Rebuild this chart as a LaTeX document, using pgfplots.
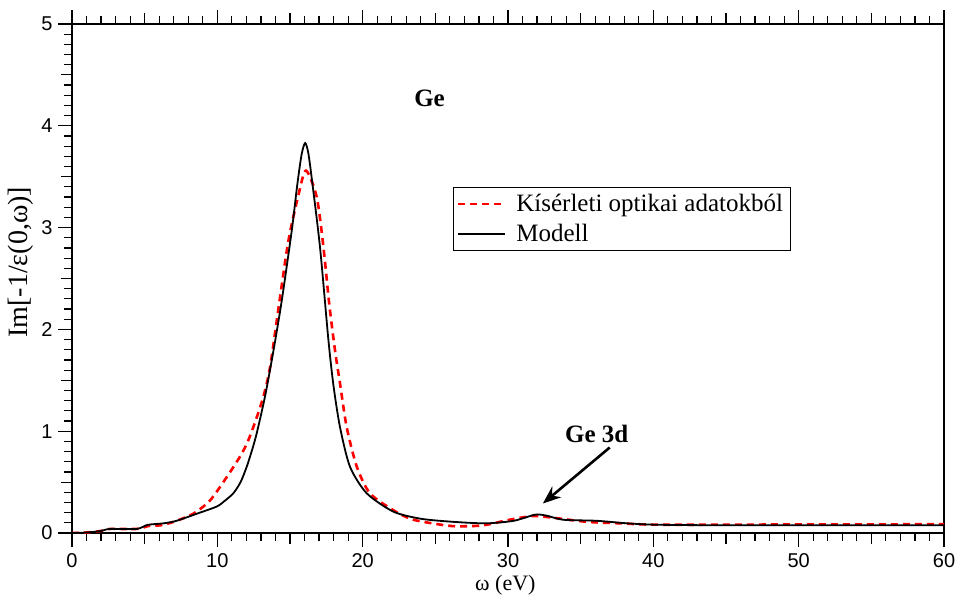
\documentclass[border=0pt]{standalone}
\usepackage{fontspec}
\setmainfont{Liberation Serif}
\newfontfamily\sansf{Liberation Sans}
\usepackage{pgfplots}
\pgfplotsset{compat=1.18}
\usetikzlibrary{arrows.meta,calc}

% Im[-1/eps] of Ge: optical data vs. model
\pgfplotstableread{
x y
0 0.0
1 0.005
2 0.02
2.6 0.04
4.45 0.04
5.2 0.08
6.3 0.095
7.2 0.12
8.6 0.19
9.96 0.26
10.5 0.315
11.1 0.39
11.6 0.50
12.02 0.65
12.4 0.82
12.71 0.98
13.28 1.34
13.86 1.79
14.43 2.28
15.12 2.97
15.5 3.42
15.8 3.72
16.04 3.83
16.25 3.74
16.5 3.48
17.07 2.80
17.64 1.90
17.99 1.45
18.44 1.04
19.13 0.65
20.28 0.39
22.11 0.21
24.0 0.14
26.2 0.11
28.5 0.095
30.4 0.12
31.87 0.18
32.67 0.17
33.8 0.13
36.1 0.12
38.2 0.095
40.0 0.082
43.2 0.077
50 0.076
60 0.077
}\model

\pgfplotstableread{
x y
0 0.0
1 0.005
2 0.02
2.6 0.04
4.45 0.04
5.3 0.07
6.06 0.075
7.0 0.11
8.35 0.19
9.5 0.32
10.65 0.55
11.6 0.76
12.1 0.90
12.6 1.09
13.17 1.34
13.63 1.63
14.25 2.25
14.89 2.87
15.58 3.32
16.1 3.56
16.84 3.30
17.3 2.81
17.7 2.25
18.1 1.79
18.44 1.47
18.9 1.04
19.6 0.65
20.5 0.39
22.1 0.225
23.5 0.13
26.0 0.07
27.5 0.068
28.5 0.08
30.1 0.13
31.75 0.167
33.1 0.15
35.4 0.11
37.7 0.095
40.0 0.082
45 0.082
50 0.084
60 0.086
}\optical

\begin{document}
\begin{tikzpicture}
\begin{axis}[
  name=ax,
  scale only axis,
  width=872pt, height=509pt,
  xmin=0, xmax=60, ymin=0, ymax=5,
  xtick={0,10,...,60}, ytick={0,1,...,5},
  minor x tick num=9, minor y tick num=9,
  extra x ticks={5,15,25,35,45,55}, extra x tick labels={},
  extra y ticks={0.5,1.5,2.5,3.5,4.5}, extra y tick labels={},
  extra tick style={major tick length=11pt},
  tick align=outside,
  xtick pos=both, ytick pos=left,
  major tick length=14pt, minor tick length=8pt,
  axis line style={line width=1.3pt},
  every tick/.style={black, line width=1.2pt},
  /pgf/number format/assume math mode=true,
  tick label style={font=\sansf\fontsize{20}{24}\selectfont},
  xticklabel style={yshift=-3pt},
  yticklabel style={xshift=-2pt},
  xlabel={ω (eV)},
  ylabel={Im[-1/ε(0,ω)]},
  xlabel style={font=\fontsize{22}{26}\selectfont, at={(axis description cs:0.497,0)}, anchor=north, yshift=-39pt},
  ylabel style={font=\fontsize{28}{32}\selectfont, at={(axis description cs:0,0.532)}, anchor=south, yshift=35pt},
  legend style={at={(axis cs:26.2,3.40)}, anchor=north west, draw=black,
    line width=1pt, font=\fontsize{25}{29}\selectfont, inner sep=3.5pt,
    nodes={inner xsep=4pt, inner ysep=3.5pt}, row sep=4pt, fill=white,
    /tikz/every odd column/.append style={column sep=6pt}},
  legend cell align=left,
  legend image code/.code={\draw[#1] (0pt,0pt) -- (47pt,0pt);},
]
\addplot[red, line width=2.6pt, dash pattern=on 7pt off 5pt, smooth, tension=0.45] table {\optical};
\addlegendentry{Kísérleti optikai adatokból}
\addplot[black, line width=1.8pt, smooth, tension=0.45] table {\model};
\addlegendentry{Modell}

\node[font=\bfseries\fontsize{25}{30}\selectfont] at (axis cs:24.6,4.27) {Ge};
\node[font=\bfseries\fontsize{25}{30}\selectfont] at (axis cs:36.1,0.97) {Ge 3d};
\draw[line width=2.6pt, -{Stealth[length=18pt,width=14pt]}] (axis cs:37.0,0.84) -- (axis cs:32.4,0.29);
\end{axis}
\pgfresetboundingbox
\path ([shift={(-72pt,-63pt)}]ax.south west) rectangle ([shift={(13pt,24pt)}]ax.north east);
\end{tikzpicture}
\end{document}
